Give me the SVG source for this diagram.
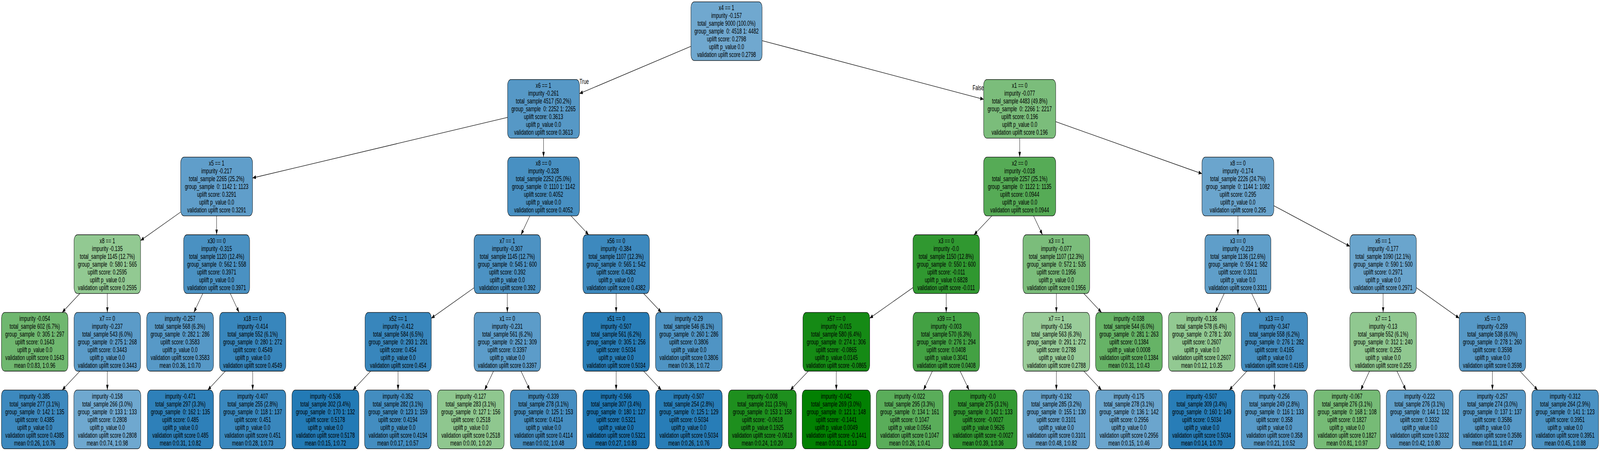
<svg xmlns="http://www.w3.org/2000/svg" width="6544" height="1155" viewBox="0 0 6544 1155" preserveAspectRatio="none">
<style>
svg{width:100vw;height:100vh}
.n rect{stroke:#000;stroke-width:1.3}
text{font-family:"Liberation Sans",Arial,Helvetica,sans-serif;font-size:19px;fill:#000;text-anchor:middle;white-space:pre}
.e line{stroke:#000;stroke-width:1.3;marker-end:url(#a)}
.lt{text-anchor:start}
.lf{text-anchor:end}
</style>
<defs><marker id="a" markerUnits="userSpaceOnUse" markerWidth="14" markerHeight="10" refX="13.5" refY="5" orient="auto"><path d="M0,0L13.5,5L0,10z" fill="#000"/></marker></defs>
<rect width="6544" height="1155" fill="#fff"/>
<g id="edges" class="e">
<line x1="2826" y1="118.55" x2="2370" y2="239.7"/>
<line x1="3117" y1="104.03" x2="4023" y2="254.29"/>
<line x1="2076" y1="300.61" x2="1033" y2="455.74"/>
<line x1="2223" y1="353.95" x2="2223" y2="402.4"/>
<line x1="4170.5" y1="353.95" x2="4170.5" y2="402.4"/>
<line x1="4318" y1="311.61" x2="4916" y2="444.85"/>
<line x1="739" y1="542.99" x2="575" y2="615.95"/>
<line x1="886" y1="552.8" x2="886" y2="601.25"/>
<line x1="2167.03" y1="552.8" x2="2130.97" y2="601.25"/>
<line x1="2335.33" y1="552.8" x2="2407.67" y2="601.25"/>
<line x1="4056.85" y1="552.8" x2="3983.65" y2="601.25"/>
<line x1="4227.23" y1="552.8" x2="4263.77" y2="601.25"/>
<line x1="5063" y1="552.8" x2="5063" y2="601.25"/>
<line x1="5210" y1="526.81" x2="5521" y2="630.92"/>
<line x1="326.67" y1="751.65" x2="254.33" y2="800.1"/>
<line x1="439" y1="751.65" x2="439" y2="800.1"/>
<line x1="829.46" y1="751.65" x2="793.04" y2="800.1"/>
<line x1="941.78" y1="751.65" x2="977.72" y2="800.1"/>
<line x1="1939" y1="737.02" x2="1764" y2="814.95"/>
<line x1="2075" y1="751.65" x2="2075" y2="800.1"/>
<line x1="2520" y1="751.65" x2="2520" y2="800.1"/>
<line x1="2632.51" y1="751.65" x2="2705" y2="800.1"/>
<line x1="3734" y1="736.61" x2="3557" y2="814.91"/>
<line x1="3870" y1="751.65" x2="3870" y2="800.1"/>
<line x1="4320.5" y1="751.65" x2="4320.5" y2="800.1"/>
<line x1="4432.83" y1="751.65" x2="4505.17" y2="800.1"/>
<line x1="5007.03" y1="751.65" x2="4970.97" y2="800.1"/>
<line x1="5119.54" y1="751.65" x2="5155.96" y2="800.1"/>
<line x1="5657" y1="751.65" x2="5657" y2="800.1"/>
<line x1="5793" y1="736.95" x2="5968" y2="814.8"/>
<line x1="326.67" y1="950.5" x2="254.33" y2="998.95"/>
<line x1="439" y1="950.5" x2="439" y2="998.95"/>
<line x1="921.74" y1="950.5" x2="849.76" y2="998.95"/>
<line x1="1033.5" y1="950.5" x2="1033.5" y2="998.95"/>
<line x1="1515.99" y1="950.5" x2="1443.51" y2="998.95"/>
<line x1="1628" y1="950.5" x2="1628" y2="998.95"/>
<line x1="2018.46" y1="950.5" x2="1982.04" y2="998.95"/>
<line x1="2130.97" y1="950.5" x2="2167.03" y2="998.95"/>
<line x1="2520" y1="950.5" x2="2520" y2="998.95"/>
<line x1="2632.51" y1="950.5" x2="2705" y2="998.95"/>
<line x1="3306.1" y1="950.5" x2="3232.4" y2="998.95"/>
<line x1="3420.5" y1="950.5" x2="3420.5" y2="998.95"/>
<line x1="3813.46" y1="950.5" x2="3777.04" y2="998.95"/>
<line x1="3926.92" y1="950.5" x2="3963.58" y2="998.95"/>
<line x1="4320.5" y1="950.5" x2="4320.5" y2="998.95"/>
<line x1="4432.83" y1="950.5" x2="4505.17" y2="998.95"/>
<line x1="5099.99" y1="950.5" x2="5027.51" y2="998.95"/>
<line x1="5212.5" y1="950.5" x2="5212.5" y2="998.95"/>
<line x1="5601.22" y1="950.5" x2="5565.28" y2="998.95"/>
<line x1="5713.54" y1="950.5" x2="5749.96" y2="998.95"/>
<line x1="6104" y1="950.5" x2="6104" y2="998.95"/>
<line x1="6216.51" y1="950.5" x2="6288.99" y2="998.95"/>
<text class="lt" x="2370" y="215">True</text>
<text class="lf" x="4024" y="231">False</text>
</g>
<g id="n0" class="n" transform="translate(2971.5,79.9)"><rect x="-145.5" y="-75.2" width="291" height="150.4" rx="14" fill="#70a8cf"/><text xml:space="preserve"><tspan x="0" y="-53.5">x4 == 1</tspan><tspan x="0" y="-33.5">impurity -0.157</tspan><tspan x="0" y="-13.5">total_sample 9000 (100.0%)</tspan><tspan x="0" y="6.5">group_sample  0: 4518 1: 4482</tspan><tspan x="0" y="26.5">uplift score: 0.2798</tspan><tspan x="0" y="46.5">uplift p_value 0.0</tspan><tspan x="0" y="66.5">validation uplift score 0.2798</tspan></text></g>
<g id="n1" class="n" transform="translate(2223,278.75)"><rect x="-147" y="-75.2" width="294" height="150.4" rx="14" fill="#5698c6"/><text xml:space="preserve"><tspan x="0" y="-53.5">x6 == 1</tspan><tspan x="0" y="-33.5">impurity -0.261</tspan><tspan x="0" y="-13.5">total_sample 4517 (50.2%)</tspan><tspan x="0" y="6.5">group_sample  0: 2252 1: 2265</tspan><tspan x="0" y="26.5">uplift score: 0.3613</tspan><tspan x="0" y="46.5">uplift p_value 0.0</tspan><tspan x="0" y="66.5">validation uplift score 0.3613</tspan></text></g>
<g id="n2" class="n" transform="translate(4170.5,278.75)"><rect x="-147.5" y="-75.2" width="295" height="150.4" rx="14" fill="#7bbd7b"/><text xml:space="preserve"><tspan x="0" y="-53.5">x1 == 0</tspan><tspan x="0" y="-33.5">impurity -0.077</tspan><tspan x="0" y="-13.5">total_sample 4483 (49.8%)</tspan><tspan x="0" y="6.5">group_sample  0: 2266 1: 2217</tspan><tspan x="0" y="26.5">uplift score: 0.196</tspan><tspan x="0" y="46.5">uplift p_value 0.0</tspan><tspan x="0" y="66.5">validation uplift score 0.196</tspan></text></g>
<g id="n3" class="n" transform="translate(886,477.6)"><rect x="-147" y="-75.2" width="294" height="150.4" rx="14" fill="#609eca"/><text xml:space="preserve"><tspan x="0" y="-53.5">x5 == 1</tspan><tspan x="0" y="-33.5">impurity -0.217</tspan><tspan x="0" y="-13.5">total_sample 2265 (25.2%)</tspan><tspan x="0" y="6.5">group_sample  0: 1142 1: 1123</tspan><tspan x="0" y="26.5">uplift score: 0.3291</tspan><tspan x="0" y="46.5">uplift p_value 0.0</tspan><tspan x="0" y="66.5">validation uplift score 0.3291</tspan></text></g>
<g id="n4" class="n" transform="translate(2223,477.6)"><rect x="-147" y="-75.2" width="294" height="150.4" rx="14" fill="#4890c2"/><text xml:space="preserve"><tspan x="0" y="-53.5">x8 == 0</tspan><tspan x="0" y="-33.5">impurity -0.328</tspan><tspan x="0" y="-13.5">total_sample 2252 (25.0%)</tspan><tspan x="0" y="6.5">group_sample  0: 1110 1: 1142</tspan><tspan x="0" y="26.5">uplift score: 0.4052</tspan><tspan x="0" y="46.5">uplift p_value 0.0</tspan><tspan x="0" y="66.5">validation uplift score 0.4052</tspan></text></g>
<g id="n5" class="n" transform="translate(4170.5,477.6)"><rect x="-147.5" y="-75.2" width="295" height="150.4" rx="14" fill="#56ab56"/><text xml:space="preserve"><tspan x="0" y="-53.5">x2 == 0</tspan><tspan x="0" y="-33.5">impurity -0.018</tspan><tspan x="0" y="-13.5">total_sample 2257 (25.1%)</tspan><tspan x="0" y="6.5">group_sample  0: 1122 1: 1135</tspan><tspan x="0" y="26.5">uplift score: 0.0944</tspan><tspan x="0" y="46.5">uplift p_value 0.0</tspan><tspan x="0" y="66.5">validation uplift score 0.0944</tspan></text></g>
<g id="n6" class="n" transform="translate(5063,477.6)"><rect x="-147" y="-75.2" width="294" height="150.4" rx="14" fill="#6ba5cd"/><text xml:space="preserve"><tspan x="0" y="-53.5">x8 == 0</tspan><tspan x="0" y="-33.5">impurity -0.174</tspan><tspan x="0" y="-13.5">total_sample 2226 (24.7%)</tspan><tspan x="0" y="6.5">group_sample  0: 1144 1: 1082</tspan><tspan x="0" y="26.5">uplift score: 0.295</tspan><tspan x="0" y="46.5">uplift p_value 0.0</tspan><tspan x="0" y="66.5">validation uplift score 0.295</tspan></text></g>
<g id="n7" class="n" transform="translate(439,676.45)"><rect x="-136" y="-75.2" width="272" height="150.4" rx="14" fill="#92c992"/><text xml:space="preserve"><tspan x="0" y="-53.5">x8 == 1</tspan><tspan x="0" y="-33.5">impurity -0.135</tspan><tspan x="0" y="-13.5">total_sample 1145 (12.7%)</tspan><tspan x="0" y="6.5">group_sample  0: 580 1: 565</tspan><tspan x="0" y="26.5">uplift score: 0.2595</tspan><tspan x="0" y="46.5">uplift p_value 0.0</tspan><tspan x="0" y="66.5">validation uplift score 0.2595</tspan></text></g>
<g id="n8" class="n" transform="translate(886,676.45)"><rect x="-135" y="-75.2" width="270" height="150.4" rx="14" fill="#4a91c2"/><text xml:space="preserve"><tspan x="0" y="-53.5">x30 == 0</tspan><tspan x="0" y="-33.5">impurity -0.315</tspan><tspan x="0" y="-13.5">total_sample 1120 (12.4%)</tspan><tspan x="0" y="6.5">group_sample  0: 562 1: 558</tspan><tspan x="0" y="26.5">uplift score: 0.3971</tspan><tspan x="0" y="46.5">uplift p_value 0.0</tspan><tspan x="0" y="66.5">validation uplift score 0.3971</tspan></text></g>
<g id="n9" class="n" transform="translate(2075,676.45)"><rect x="-136" y="-75.2" width="272" height="150.4" rx="14" fill="#4c92c3"/><text xml:space="preserve"><tspan x="0" y="-53.5">x7 == 1</tspan><tspan x="0" y="-33.5">impurity -0.307</tspan><tspan x="0" y="-13.5">total_sample 1145 (12.7%)</tspan><tspan x="0" y="6.5">group_sample  0: 545 1: 600</tspan><tspan x="0" y="26.5">uplift score: 0.392</tspan><tspan x="0" y="46.5">uplift p_value 0.0</tspan><tspan x="0" y="66.5">validation uplift score 0.392</tspan></text></g>
<g id="n10" class="n" transform="translate(2520,676.45)"><rect x="-136" y="-75.2" width="272" height="150.4" rx="14" fill="#3d89be"/><text xml:space="preserve"><tspan x="0" y="-53.5">x56 == 0</tspan><tspan x="0" y="-33.5">impurity -0.384</tspan><tspan x="0" y="-13.5">total_sample 1107 (12.3%)</tspan><tspan x="0" y="6.5">group_sample  0: 565 1: 542</tspan><tspan x="0" y="26.5">uplift score: 0.4382</tspan><tspan x="0" y="46.5">uplift p_value 0.0</tspan><tspan x="0" y="66.5">validation uplift score 0.4382</tspan></text></g>
<g id="n11" class="n" transform="translate(3870,676.45)"><rect x="-136" y="-75.2" width="272" height="150.4" rx="14" fill="#309830"/><text xml:space="preserve"><tspan x="0" y="-53.5">x3 == 0</tspan><tspan x="0" y="-33.5">impurity -0.0</tspan><tspan x="0" y="-13.5">total_sample 1150 (12.8%)</tspan><tspan x="0" y="6.5">group_sample  0: 550 1: 600</tspan><tspan x="0" y="26.5">uplift score: -0.011</tspan><tspan x="0" y="46.5">uplift p_value 0.6828</tspan><tspan x="0" y="66.5">validation uplift score -0.011</tspan></text></g>
<g id="n12" class="n" transform="translate(4320.5,676.45)"><rect x="-136.5" y="-75.2" width="273" height="150.4" rx="14" fill="#7bbd7b"/><text xml:space="preserve"><tspan x="0" y="-53.5">x3 == 1</tspan><tspan x="0" y="-33.5">impurity -0.077</tspan><tspan x="0" y="-13.5">total_sample 1107 (12.3%)</tspan><tspan x="0" y="6.5">group_sample  0: 572 1: 535</tspan><tspan x="0" y="26.5">uplift score: 0.1956</tspan><tspan x="0" y="46.5">uplift p_value 0.0</tspan><tspan x="0" y="66.5">validation uplift score 0.1956</tspan></text></g>
<g id="n13" class="n" transform="translate(5063,676.45)"><rect x="-135" y="-75.2" width="270" height="150.4" rx="14" fill="#5f9ec9"/><text xml:space="preserve"><tspan x="0" y="-53.5">x3 == 0</tspan><tspan x="0" y="-33.5">impurity -0.219</tspan><tspan x="0" y="-13.5">total_sample 1136 (12.6%)</tspan><tspan x="0" y="6.5">group_sample  0: 554 1: 582</tspan><tspan x="0" y="26.5">uplift score: 0.3311</tspan><tspan x="0" y="46.5">uplift p_value 0.0</tspan><tspan x="0" y="66.5">validation uplift score 0.3311</tspan></text></g>
<g id="n14" class="n" transform="translate(5657,676.45)"><rect x="-136" y="-75.2" width="272" height="150.4" rx="14" fill="#6aa5cd"/><text xml:space="preserve"><tspan x="0" y="-53.5">x6 == 1</tspan><tspan x="0" y="-33.5">impurity -0.177</tspan><tspan x="0" y="-13.5">total_sample 1090 (12.1%)</tspan><tspan x="0" y="6.5">group_sample  0: 590 1: 500</tspan><tspan x="0" y="26.5">uplift score: 0.2971</tspan><tspan x="0" y="46.5">uplift p_value 0.0</tspan><tspan x="0" y="66.5">validation uplift score 0.2971</tspan></text></g>
<g id="n15" class="n" transform="translate(142,875.3)"><rect x="-136" y="-75.2" width="272" height="150.4" rx="14" fill="#6fb76f"/><text xml:space="preserve"><tspan x="0" y="-53.5">impurity -0.054</tspan><tspan x="0" y="-33.5">total_sample 602 (6.7%)</tspan><tspan x="0" y="-13.5">group_sample  0: 305 1: 297</tspan><tspan x="0" y="6.5">uplift score: 0.1643</tspan><tspan x="0" y="26.5">uplift p_value 0.0</tspan><tspan x="0" y="46.5">validation uplift score 0.1643</tspan><tspan x="0" y="66.5">mean 0:0.83, 1:0.96</tspan></text></g>
<g id="n16" class="n" transform="translate(439,875.3)"><rect x="-136" y="-75.2" width="272" height="150.4" rx="14" fill="#5b9bc8"/><text xml:space="preserve"><tspan x="0" y="-53.5">x7 == 0</tspan><tspan x="0" y="-33.5">impurity -0.237</tspan><tspan x="0" y="-13.5">total_sample 543 (6.0%)</tspan><tspan x="0" y="6.5">group_sample  0: 275 1: 268</tspan><tspan x="0" y="26.5">uplift score: 0.3443</tspan><tspan x="0" y="46.5">uplift p_value 0.0</tspan><tspan x="0" y="66.5">validation uplift score 0.3443</tspan></text></g>
<g id="n17" class="n" transform="translate(736.5,875.3)"><rect x="-136.5" y="-75.2" width="273" height="150.4" rx="14" fill="#5799c7"/><text xml:space="preserve"><tspan x="0" y="-53.5">impurity -0.257</tspan><tspan x="0" y="-33.5">total_sample 568 (6.3%)</tspan><tspan x="0" y="-13.5">group_sample  0: 282 1: 286</tspan><tspan x="0" y="6.5">uplift score: 0.3583</tspan><tspan x="0" y="26.5">uplift p_value 0.0</tspan><tspan x="0" y="46.5">validation uplift score 0.3583</tspan><tspan x="0" y="66.5">mean 0:0.36, 1:0.70</tspan></text></g>
<g id="n18" class="n" transform="translate(1033.5,875.3)"><rect x="-135.5" y="-75.2" width="271" height="150.4" rx="14" fill="#3886bc"/><text xml:space="preserve"><tspan x="0" y="-53.5">x18 == 0</tspan><tspan x="0" y="-33.5">impurity -0.414</tspan><tspan x="0" y="-13.5">total_sample 552 (6.1%)</tspan><tspan x="0" y="6.5">group_sample  0: 280 1: 272</tspan><tspan x="0" y="26.5">uplift score: 0.4549</tspan><tspan x="0" y="46.5">uplift p_value 0.0</tspan><tspan x="0" y="66.5">validation uplift score 0.4549</tspan></text></g>
<g id="n19" class="n" transform="translate(1628.5,875.3)"><rect x="-135.5" y="-75.2" width="271" height="150.4" rx="14" fill="#3886bc"/><text xml:space="preserve"><tspan x="0" y="-53.5">x52 == 1</tspan><tspan x="0" y="-33.5">impurity -0.412</tspan><tspan x="0" y="-13.5">total_sample 584 (6.5%)</tspan><tspan x="0" y="6.5">group_sample  0: 293 1: 291</tspan><tspan x="0" y="26.5">uplift score: 0.454</tspan><tspan x="0" y="46.5">uplift p_value 0.0</tspan><tspan x="0" y="66.5">validation uplift score 0.454</tspan></text></g>
<g id="n20" class="n" transform="translate(2075,875.3)"><rect x="-136" y="-75.2" width="272" height="150.4" rx="14" fill="#5c9cc9"/><text xml:space="preserve"><tspan x="0" y="-53.5">x1 == 0</tspan><tspan x="0" y="-33.5">impurity -0.231</tspan><tspan x="0" y="-13.5">total_sample 561 (6.2%)</tspan><tspan x="0" y="6.5">group_sample  0: 252 1: 309</tspan><tspan x="0" y="26.5">uplift score: 0.3397</tspan><tspan x="0" y="46.5">uplift p_value 0.0</tspan><tspan x="0" y="66.5">validation uplift score 0.3397</tspan></text></g>
<g id="n21" class="n" transform="translate(2520,875.3)"><rect x="-136" y="-75.2" width="272" height="150.4" rx="14" fill="#287db7"/><text xml:space="preserve"><tspan x="0" y="-53.5">x51 == 0</tspan><tspan x="0" y="-33.5">impurity -0.507</tspan><tspan x="0" y="-13.5">total_sample 561 (6.2%)</tspan><tspan x="0" y="6.5">group_sample  0: 305 1: 256</tspan><tspan x="0" y="26.5">uplift score: 0.5034</tspan><tspan x="0" y="46.5">uplift p_value 0.0</tspan><tspan x="0" y="66.5">validation uplift score 0.5034</tspan></text></g>
<g id="n22" class="n" transform="translate(2817.5,875.3)"><rect x="-136.5" y="-75.2" width="273" height="150.4" rx="14" fill="#4f94c4"/><text xml:space="preserve"><tspan x="0" y="-53.5">impurity -0.29</tspan><tspan x="0" y="-33.5">total_sample 546 (6.1%)</tspan><tspan x="0" y="-13.5">group_sample  0: 260 1: 286</tspan><tspan x="0" y="6.5">uplift score: 0.3806</tspan><tspan x="0" y="26.5">uplift p_value 0.0</tspan><tspan x="0" y="46.5">validation uplift score 0.3806</tspan><tspan x="0" y="66.5">mean 0:0.36, 1:0.72</tspan></text></g>
<g id="n23" class="n" transform="translate(3420.5,875.3)"><rect x="-136.5" y="-75.2" width="273" height="150.4" rx="14" fill="#158a15"/><text xml:space="preserve"><tspan x="0" y="-53.5">x57 == 0</tspan><tspan x="0" y="-33.5">impurity -0.015</tspan><tspan x="0" y="-13.5">total_sample 580 (6.4%)</tspan><tspan x="0" y="6.5">group_sample  0: 274 1: 306</tspan><tspan x="0" y="26.5">uplift score: -0.0865</tspan><tspan x="0" y="46.5">uplift p_value 0.0145</tspan><tspan x="0" y="66.5">validation uplift score -0.0865</tspan></text></g>
<g id="n24" class="n" transform="translate(3870,875.3)"><rect x="-136" y="-75.2" width="272" height="150.4" rx="14" fill="#43a143"/><text xml:space="preserve"><tspan x="0" y="-53.5">x39 == 1</tspan><tspan x="0" y="-33.5">impurity -0.003</tspan><tspan x="0" y="-13.5">total_sample 570 (6.3%)</tspan><tspan x="0" y="6.5">group_sample  0: 276 1: 294</tspan><tspan x="0" y="26.5">uplift score: 0.0408</tspan><tspan x="0" y="46.5">uplift p_value 0.3041</tspan><tspan x="0" y="66.5">validation uplift score 0.0408</tspan></text></g>
<g id="n25" class="n" transform="translate(4320.5,875.3)"><rect x="-136.5" y="-75.2" width="273" height="150.4" rx="14" fill="#99cc99"/><text xml:space="preserve"><tspan x="0" y="-53.5">x7 == 1</tspan><tspan x="0" y="-33.5">impurity -0.156</tspan><tspan x="0" y="-13.5">total_sample 563 (6.3%)</tspan><tspan x="0" y="6.5">group_sample  0: 291 1: 272</tspan><tspan x="0" y="26.5">uplift score: 0.2788</tspan><tspan x="0" y="46.5">uplift p_value 0.0</tspan><tspan x="0" y="66.5">validation uplift score 0.2788</tspan></text></g>
<g id="n26" class="n" transform="translate(4617.5,875.3)"><rect x="-136.5" y="-75.2" width="273" height="150.4" rx="14" fill="#66b366"/><text xml:space="preserve"><tspan x="0" y="-53.5">impurity -0.038</tspan><tspan x="0" y="-33.5">total_sample 544 (6.0%)</tspan><tspan x="0" y="-13.5">group_sample  0: 281 1: 263</tspan><tspan x="0" y="6.5">uplift score: 0.1384</tspan><tspan x="0" y="26.5">uplift p_value 0.0008</tspan><tspan x="0" y="46.5">validation uplift score 0.1384</tspan><tspan x="0" y="66.5">mean 0:0.31, 1:0.43</tspan></text></g>
<g id="n27" class="n" transform="translate(4915,875.3)"><rect x="-136" y="-75.2" width="272" height="150.4" rx="14" fill="#92c992"/><text xml:space="preserve"><tspan x="0" y="-53.5">impurity -0.136</tspan><tspan x="0" y="-33.5">total_sample 578 (6.4%)</tspan><tspan x="0" y="-13.5">group_sample  0: 278 1: 300</tspan><tspan x="0" y="6.5">uplift score: 0.2607</tspan><tspan x="0" y="26.5">uplift p_value 0.0</tspan><tspan x="0" y="46.5">validation uplift score 0.2607</tspan><tspan x="0" y="66.5">mean 0:0.12, 1:0.35</tspan></text></g>
<g id="n28" class="n" transform="translate(5212.5,875.3)"><rect x="-135.5" y="-75.2" width="271" height="150.4" rx="14" fill="#448dc0"/><text xml:space="preserve"><tspan x="0" y="-53.5">x13 == 0</tspan><tspan x="0" y="-33.5">impurity -0.347</tspan><tspan x="0" y="-13.5">total_sample 558 (6.2%)</tspan><tspan x="0" y="6.5">group_sample  0: 276 1: 282</tspan><tspan x="0" y="26.5">uplift score: 0.4165</tspan><tspan x="0" y="46.5">uplift p_value 0.0</tspan><tspan x="0" y="66.5">validation uplift score 0.4165</tspan></text></g>
<g id="n29" class="n" transform="translate(5657,875.3)"><rect x="-136" y="-75.2" width="272" height="150.4" rx="14" fill="#90c890"/><text xml:space="preserve"><tspan x="0" y="-53.5">x7 == 1</tspan><tspan x="0" y="-33.5">impurity -0.13</tspan><tspan x="0" y="-13.5">total_sample 552 (6.1%)</tspan><tspan x="0" y="6.5">group_sample  0: 312 1: 240</tspan><tspan x="0" y="26.5">uplift score: 0.255</tspan><tspan x="0" y="46.5">uplift p_value 0.0</tspan><tspan x="0" y="66.5">validation uplift score 0.255</tspan></text></g>
<g id="n30" class="n" transform="translate(6104,875.3)"><rect x="-136" y="-75.2" width="272" height="150.4" rx="14" fill="#5698c6"/><text xml:space="preserve"><tspan x="0" y="-53.5">x5 == 0</tspan><tspan x="0" y="-33.5">impurity -0.259</tspan><tspan x="0" y="-13.5">total_sample 538 (6.0%)</tspan><tspan x="0" y="6.5">group_sample  0: 278 1: 260</tspan><tspan x="0" y="26.5">uplift score: 0.3598</tspan><tspan x="0" y="46.5">uplift p_value 0.0</tspan><tspan x="0" y="66.5">validation uplift score 0.3598</tspan></text></g>
<g id="n31" class="n" transform="translate(142,1074.15)"><rect x="-136" y="-75.2" width="272" height="150.4" rx="14" fill="#3d89be"/><text xml:space="preserve"><tspan x="0" y="-53.5">impurity -0.385</tspan><tspan x="0" y="-33.5">total_sample 277 (3.1%)</tspan><tspan x="0" y="-13.5">group_sample  0: 142 1: 135</tspan><tspan x="0" y="6.5">uplift score: 0.4385</tspan><tspan x="0" y="26.5">uplift p_value 0.0</tspan><tspan x="0" y="46.5">validation uplift score 0.4385</tspan><tspan x="0" y="66.5">mean 0:0.26, 1:0.76</tspan></text></g>
<g id="n32" class="n" transform="translate(439,1074.15)"><rect x="-137" y="-75.2" width="274" height="150.4" rx="14" fill="#6fa8cf"/><text xml:space="preserve"><tspan x="0" y="-53.5">impurity -0.158</tspan><tspan x="0" y="-33.5">total_sample 266 (3.0%)</tspan><tspan x="0" y="-13.5">group_sample  0: 133 1: 133</tspan><tspan x="0" y="6.5">uplift score: 0.2808</tspan><tspan x="0" y="26.5">uplift p_value 0.0</tspan><tspan x="0" y="46.5">validation uplift score 0.2808</tspan><tspan x="0" y="66.5">mean 0:0.74, 1:0.98</tspan></text></g>
<g id="n33" class="n" transform="translate(738,1074.15)"><rect x="-135" y="-75.2" width="270" height="150.4" rx="14" fill="#2e80b9"/><text xml:space="preserve"><tspan x="0" y="-53.5">impurity -0.471</tspan><tspan x="0" y="-33.5">total_sample 297 (3.3%)</tspan><tspan x="0" y="-13.5">group_sample  0: 162 1: 135</tspan><tspan x="0" y="6.5">uplift score: 0.485</tspan><tspan x="0" y="26.5">uplift p_value 0.0</tspan><tspan x="0" y="46.5">validation uplift score 0.485</tspan><tspan x="0" y="66.5">mean 0:0.31, 1:0.82</tspan></text></g>
<g id="n34" class="n" transform="translate(1033.5,1074.15)"><rect x="-135.5" y="-75.2" width="271" height="150.4" rx="14" fill="#3987bd"/><text xml:space="preserve"><tspan x="0" y="-53.5">impurity -0.407</tspan><tspan x="0" y="-33.5">total_sample 255 (2.8%)</tspan><tspan x="0" y="-13.5">group_sample  0: 118 1: 137</tspan><tspan x="0" y="6.5">uplift score: 0.451</tspan><tspan x="0" y="26.5">uplift p_value 0.0</tspan><tspan x="0" y="46.5">validation uplift score 0.451</tspan><tspan x="0" y="66.5">mean 0:0.28, 1:0.73</tspan></text></g>
<g id="n35" class="n" transform="translate(1331,1074.15)"><rect x="-137" y="-75.2" width="274" height="150.4" rx="14" fill="#237ab5"/><text xml:space="preserve"><tspan x="0" y="-53.5">impurity -0.536</tspan><tspan x="0" y="-33.5">total_sample 302 (3.4%)</tspan><tspan x="0" y="-13.5">group_sample  0: 170 1: 132</tspan><tspan x="0" y="6.5">uplift score: 0.5178</tspan><tspan x="0" y="26.5">uplift p_value 0.0</tspan><tspan x="0" y="46.5">validation uplift score 0.5178</tspan><tspan x="0" y="66.5">mean 0:0.15, 1:0.72</tspan></text></g>
<g id="n36" class="n" transform="translate(1627.5,1074.15)"><rect x="-136.5" y="-75.2" width="273" height="150.4" rx="14" fill="#438dc0"/><text xml:space="preserve"><tspan x="0" y="-53.5">impurity -0.352</tspan><tspan x="0" y="-33.5">total_sample 282 (3.1%)</tspan><tspan x="0" y="-13.5">group_sample  0: 123 1: 159</tspan><tspan x="0" y="6.5">uplift score: 0.4194</tspan><tspan x="0" y="26.5">uplift p_value 0.0</tspan><tspan x="0" y="46.5">validation uplift score 0.4194</tspan><tspan x="0" y="66.5">mean 0:0.17, 1:0.57</tspan></text></g>
<g id="n37" class="n" transform="translate(1925.5,1074.15)"><rect x="-136.5" y="-75.2" width="273" height="150.4" rx="14" fill="#8fc78f"/><text xml:space="preserve"><tspan x="0" y="-53.5">impurity -0.127</tspan><tspan x="0" y="-33.5">total_sample 283 (3.1%)</tspan><tspan x="0" y="-13.5">group_sample  0: 127 1: 156</tspan><tspan x="0" y="6.5">uplift score: 0.2518</tspan><tspan x="0" y="26.5">uplift p_value 0.0</tspan><tspan x="0" y="46.5">validation uplift score 0.2518</tspan><tspan x="0" y="66.5">mean 0:0.00, 1:0.20</tspan></text></g>
<g id="n38" class="n" transform="translate(2223,1074.15)"><rect x="-136" y="-75.2" width="272" height="150.4" rx="14" fill="#468ec1"/><text xml:space="preserve"><tspan x="0" y="-53.5">impurity -0.339</tspan><tspan x="0" y="-33.5">total_sample 278 (3.1%)</tspan><tspan x="0" y="-13.5">group_sample  0: 125 1: 153</tspan><tspan x="0" y="6.5">uplift score: 0.4114</tspan><tspan x="0" y="26.5">uplift p_value 0.0</tspan><tspan x="0" y="46.5">validation uplift score 0.4114</tspan><tspan x="0" y="66.5">mean 0:0.02, 1:0.48</tspan></text></g>
<g id="n39" class="n" transform="translate(2520,1074.15)"><rect x="-136" y="-75.2" width="272" height="150.4" rx="14" fill="#1f77b4"/><text xml:space="preserve"><tspan x="0" y="-53.5">impurity -0.566</tspan><tspan x="0" y="-33.5">total_sample 307 (3.4%)</tspan><tspan x="0" y="-13.5">group_sample  0: 180 1: 127</tspan><tspan x="0" y="6.5">uplift score: 0.5321</tspan><tspan x="0" y="26.5">uplift p_value 0.0</tspan><tspan x="0" y="46.5">validation uplift score 0.5321</tspan><tspan x="0" y="66.5">mean 0:0.27, 1:0.83</tspan></text></g>
<g id="n40" class="n" transform="translate(2817.5,1074.15)"><rect x="-136.5" y="-75.2" width="273" height="150.4" rx="14" fill="#287db7"/><text xml:space="preserve"><tspan x="0" y="-53.5">impurity -0.507</tspan><tspan x="0" y="-33.5">total_sample 254 (2.8%)</tspan><tspan x="0" y="-13.5">group_sample  0: 125 1: 129</tspan><tspan x="0" y="6.5">uplift score: 0.5034</tspan><tspan x="0" y="26.5">uplift p_value 0.0</tspan><tspan x="0" y="46.5">validation uplift score 0.5034</tspan><tspan x="0" y="66.5">mean 0:0.26, 1:0.76</tspan></text></g>
<g id="n41" class="n" transform="translate(3118,1074.15)"><rect x="-139" y="-75.2" width="278" height="150.4" rx="14" fill="#1e8f1e"/><text xml:space="preserve"><tspan x="0" y="-53.5">impurity -0.008</tspan><tspan x="0" y="-33.5">total_sample 311 (3.5%)</tspan><tspan x="0" y="-13.5">group_sample  0: 153 1: 158</tspan><tspan x="0" y="6.5">uplift score: -0.0618</tspan><tspan x="0" y="26.5">uplift p_value 0.1925</tspan><tspan x="0" y="46.5">validation uplift score -0.0618</tspan><tspan x="0" y="66.5">mean 0:0.24, 1:0.20</tspan></text></g>
<g id="n42" class="n" transform="translate(3420.5,1074.15)"><rect x="-139.5" y="-75.2" width="279" height="150.4" rx="14" fill="#028002"/><text xml:space="preserve"><tspan x="0" y="-53.5">impurity -0.042</tspan><tspan x="0" y="-33.5">total_sample 269 (3.0%)</tspan><tspan x="0" y="-13.5">group_sample  0: 121 1: 148</tspan><tspan x="0" y="6.5">uplift score: -0.1441</tspan><tspan x="0" y="26.5">uplift p_value 0.0049</tspan><tspan x="0" y="46.5">validation uplift score -0.1441</tspan><tspan x="0" y="66.5">mean 0:0.31, 1:0.13</tspan></text></g>
<g id="n43" class="n" transform="translate(3720.5,1074.15)"><rect x="-136.5" y="-75.2" width="273" height="150.4" rx="14" fill="#5aad5a"/><text xml:space="preserve"><tspan x="0" y="-53.5">impurity -0.022</tspan><tspan x="0" y="-33.5">total_sample 295 (3.3%)</tspan><tspan x="0" y="-13.5">group_sample  0: 134 1: 161</tspan><tspan x="0" y="6.5">uplift score: 0.1047</tspan><tspan x="0" y="26.5">uplift p_value 0.0564</tspan><tspan x="0" y="46.5">validation uplift score 0.1047</tspan><tspan x="0" y="66.5">mean 0:0.26, 1:0.41</tspan></text></g>
<g id="n44" class="n" transform="translate(4020.5,1074.15)"><rect x="-139.5" y="-75.2" width="279" height="150.4" rx="14" fill="#339933"/><text xml:space="preserve"><tspan x="0" y="-53.5">impurity -0.0</tspan><tspan x="0" y="-33.5">total_sample 275 (3.1%)</tspan><tspan x="0" y="-13.5">group_sample  0: 142 1: 133</tspan><tspan x="0" y="6.5">uplift score: -0.0027</tspan><tspan x="0" y="26.5">uplift p_value 0.9626</tspan><tspan x="0" y="46.5">validation uplift score -0.0027</tspan><tspan x="0" y="66.5">mean 0:0.39, 1:0.36</tspan></text></g>
<g id="n45" class="n" transform="translate(4320.5,1074.15)"><rect x="-136.5" y="-75.2" width="273" height="150.4" rx="14" fill="#66a2cc"/><text xml:space="preserve"><tspan x="0" y="-53.5">impurity -0.192</tspan><tspan x="0" y="-33.5">total_sample 285 (3.2%)</tspan><tspan x="0" y="-13.5">group_sample  0: 155 1: 130</tspan><tspan x="0" y="6.5">uplift score: 0.3101</tspan><tspan x="0" y="26.5">uplift p_value 0.0</tspan><tspan x="0" y="46.5">validation uplift score 0.3101</tspan><tspan x="0" y="66.5">mean 0:0.48, 1:0.82</tspan></text></g>
<g id="n46" class="n" transform="translate(4617.5,1074.15)"><rect x="-136.5" y="-75.2" width="273" height="150.4" rx="14" fill="#6ba5cd"/><text xml:space="preserve"><tspan x="0" y="-53.5">impurity -0.175</tspan><tspan x="0" y="-33.5">total_sample 278 (3.1%)</tspan><tspan x="0" y="-13.5">group_sample  0: 136 1: 142</tspan><tspan x="0" y="6.5">uplift score: 0.2956</tspan><tspan x="0" y="26.5">uplift p_value 0.0</tspan><tspan x="0" y="46.5">validation uplift score 0.2956</tspan><tspan x="0" y="66.5">mean 0:0.15, 1:0.46</tspan></text></g>
<g id="n47" class="n" transform="translate(4915,1074.15)"><rect x="-136" y="-75.2" width="272" height="150.4" rx="14" fill="#287db7"/><text xml:space="preserve"><tspan x="0" y="-53.5">impurity -0.507</tspan><tspan x="0" y="-33.5">total_sample 309 (3.4%)</tspan><tspan x="0" y="-13.5">group_sample  0: 160 1: 149</tspan><tspan x="0" y="6.5">uplift score: 0.5034</tspan><tspan x="0" y="26.5">uplift p_value 0.0</tspan><tspan x="0" y="46.5">validation uplift score 0.5034</tspan><tspan x="0" y="66.5">mean 0:0.14, 1:0.70</tspan></text></g>
<g id="n48" class="n" transform="translate(5212.5,1074.15)"><rect x="-135.5" y="-75.2" width="271" height="150.4" rx="14" fill="#5799c7"/><text xml:space="preserve"><tspan x="0" y="-53.5">impurity -0.256</tspan><tspan x="0" y="-33.5">total_sample 249 (2.8%)</tspan><tspan x="0" y="-13.5">group_sample  0: 116 1: 133</tspan><tspan x="0" y="6.5">uplift score: 0.358</tspan><tspan x="0" y="26.5">uplift p_value 0.0</tspan><tspan x="0" y="46.5">validation uplift score 0.358</tspan><tspan x="0" y="66.5">mean 0:0.21, 1:0.52</tspan></text></g>
<g id="n49" class="n" transform="translate(5509.5,1074.15)"><rect x="-135.5" y="-75.2" width="271" height="150.4" rx="14" fill="#76bb76"/><text xml:space="preserve"><tspan x="0" y="-53.5">impurity -0.067</tspan><tspan x="0" y="-33.5">total_sample 276 (3.1%)</tspan><tspan x="0" y="-13.5">group_sample  0: 168 1: 108</tspan><tspan x="0" y="6.5">uplift score: 0.1827</tspan><tspan x="0" y="26.5">uplift p_value 0.0</tspan><tspan x="0" y="46.5">validation uplift score 0.1827</tspan><tspan x="0" y="66.5">mean 0:0.81, 1:0.97</tspan></text></g>
<g id="n50" class="n" transform="translate(5806.5,1074.15)"><rect x="-136.5" y="-75.2" width="273" height="150.4" rx="14" fill="#5f9ec9"/><text xml:space="preserve"><tspan x="0" y="-53.5">impurity -0.222</tspan><tspan x="0" y="-33.5">total_sample 276 (3.1%)</tspan><tspan x="0" y="-13.5">group_sample  0: 144 1: 132</tspan><tspan x="0" y="6.5">uplift score: 0.3332</tspan><tspan x="0" y="26.5">uplift p_value 0.0</tspan><tspan x="0" y="46.5">validation uplift score 0.3332</tspan><tspan x="0" y="66.5">mean 0:0.42, 1:0.80</tspan></text></g>
<g id="n51" class="n" transform="translate(6104,1074.15)"><rect x="-136" y="-75.2" width="272" height="150.4" rx="14" fill="#5799c7"/><text xml:space="preserve"><tspan x="0" y="-53.5">impurity -0.257</tspan><tspan x="0" y="-33.5">total_sample 274 (3.0%)</tspan><tspan x="0" y="-13.5">group_sample  0: 137 1: 137</tspan><tspan x="0" y="6.5">uplift score: 0.3586</tspan><tspan x="0" y="26.5">uplift p_value 0.0</tspan><tspan x="0" y="46.5">validation uplift score 0.3586</tspan><tspan x="0" y="66.5">mean 0:0.11, 1:0.47</tspan></text></g>
<g id="n52" class="n" transform="translate(6401.5,1074.15)"><rect x="-136.5" y="-75.2" width="273" height="150.4" rx="14" fill="#4b92c3"/><text xml:space="preserve"><tspan x="0" y="-53.5">impurity -0.312</tspan><tspan x="0" y="-33.5">total_sample 264 (2.9%)</tspan><tspan x="0" y="-13.5">group_sample  0: 141 1: 123</tspan><tspan x="0" y="6.5">uplift score: 0.3951</tspan><tspan x="0" y="26.5">uplift p_value 0.0</tspan><tspan x="0" y="46.5">validation uplift score 0.3951</tspan><tspan x="0" y="66.5">mean 0:0.45, 1:0.88</tspan></text></g>
</svg>
